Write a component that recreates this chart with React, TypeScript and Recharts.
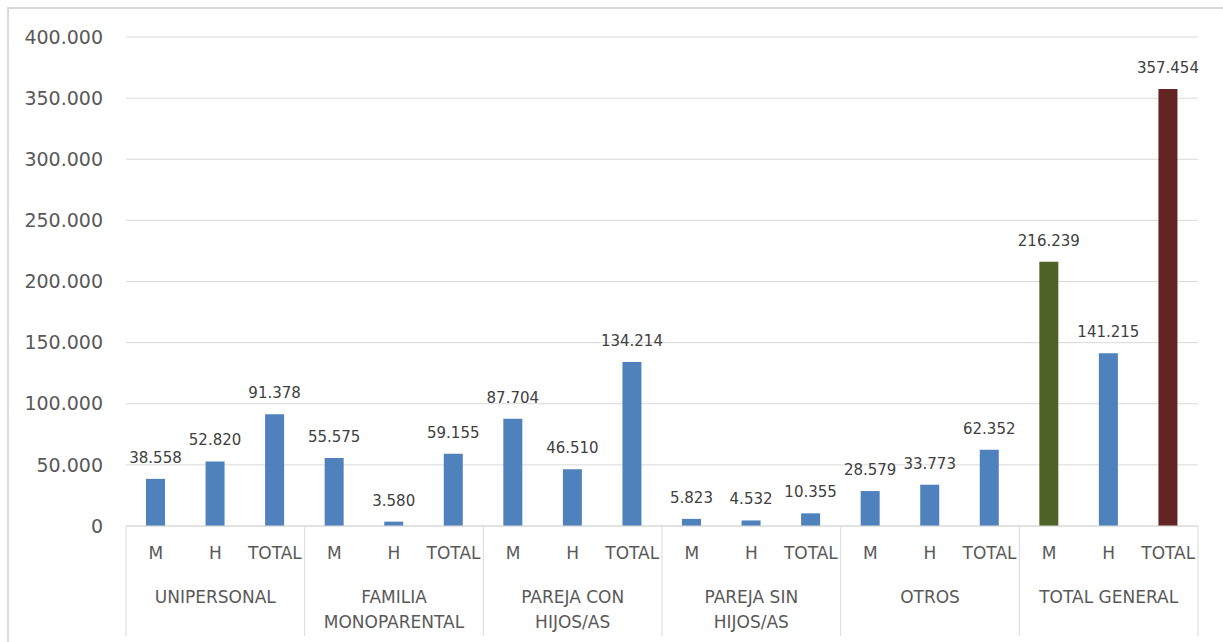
import { Bar, BarChart, CartesianGrid, Cell, LabelList, XAxis, YAxis } from "recharts";

const groups = [
  "UNIPERSONAL",
  "FAMILIA MONOPARENTAL",
  "PAREJA CON HIJOS/AS",
  "PAREJA SIN HIJOS/AS",
  "OTROS",
  "TOTAL GENERAL",
];
const subs = ["M", "H", "TOTAL"];
const values = [
  [38558, 52820, 91378],
  [55575, 3580, 59155],
  [87704, 46510, 134214],
  [5823, 4532, 10355],
  [28579, 33773, 62352],
  [216239, 141215, 357454],
];
const yTicks = [0, 50000, 100000, 150000, 200000, 250000, 300000, 350000, 400000];

// wrapped group labels as they appear under the axis
const groupLines: Record<string, string[]> = {
  "FAMILIA MONOPARENTAL": ["FAMILIA", "MONOPARENTAL"],
  "PAREJA CON HIJOS/AS": ["PAREJA CON", "HIJOS/AS"],
  "PAREJA SIN HIJOS/AS": ["PAREJA SIN", "HIJOS/AS"],
};

const data = groups.flatMap((g, gi) =>
  subs.map((s, si) => ({ key: `${g}-${s}`, group: g, sub: s, value: values[gi][si] }))
);

const FONT = "'DejaVu Sans', sans-serif";
const GRID = "#d9d9d9";

const fmt = (v: number) => String(v).replace(/\B(?=(\d{3})+(?!\d))/g, ".");

function barColor(group: string, sub: string) {
  if (group === "TOTAL GENERAL" && sub === "M") return "#4f6228";
  if (group === "TOTAL GENERAL" && sub === "TOTAL") return "#632523";
  return "#4f81bd";
}

function GroupTick(props: any) {
  const { x, y, payload, index } = props;
  const row = data[index];
  const half = payload?.offset ?? 29.8;
  const lines = groupLines[row.group] ?? [row.group];
  return (
    <g>
      <text x={x} y={y + 33} textAnchor="middle" fontSize={17} fill="#595959" fontFamily={FONT}>
        {row.sub}
      </text>
      {index % 3 === 0 && <line x1={x - half} x2={x - half} y1={y} y2={y + 110} stroke={GRID} />}
      {index === data.length - 1 && <line x1={x + half} x2={x + half} y1={y} y2={y + 110} stroke={GRID} />}
      {index % 3 === 1 &&
        lines.map((l, i) => (
          <text key={l} x={x} y={y + 77 + i * 25} textAnchor="middle" fontSize={17} fill="#595959" fontFamily={FONT}>
            {l}
          </text>
        ))}
    </g>
  );
}

export default function App() {
  return (
    <div style={{ position: "absolute", left: 0, top: 0, width: 1223, height: 642, background: "#fff" }}>
      <div
        style={{
          position: "absolute",
          left: 7,
          top: 7,
          width: 1230,
          height: 650,
          borderLeft: `2px solid ${GRID}`,
          borderTop: `2px solid ${GRID}`,
        }}
      />
      <BarChart
        width={1223}
        height={642}
        data={data}
        margin={{ top: 37, right: 25, bottom: 6, left: 10 }}
        barSize={19}
        style={{ position: "absolute", left: 0, top: 0 }}
      >
        <CartesianGrid vertical={false} stroke={GRID} />
        <XAxis
          dataKey="key"
          interval={0}
          height={110}
          tickLine={false}
          tickSize={0}
          tickMargin={0}
          axisLine={{ stroke: GRID }}
          tick={<GroupTick />}
        />
        <YAxis
          width={116}
          domain={[0, 400000]}
          ticks={yTicks}
          axisLine={false}
          tickLine={false}
          tickSize={0}
          tickMargin={23}
          tickFormatter={fmt}
          tick={{ fontSize: 19, fill: "#595959", fontFamily: FONT }}
        />
        <Bar dataKey="value" isAnimationActive={false}>
          {data.map((d) => (
            <Cell key={d.key} fill={barColor(d.group, d.sub)} />
          ))}
          <LabelList
            dataKey="value"
            position="top"
            offset={16}
            formatter={(v: any) => fmt(Number(v))}
            style={{ fontSize: 15, fill: "#404040", fontFamily: FONT }}
          />
        </Bar>
      </BarChart>
    </div>
  );
}
